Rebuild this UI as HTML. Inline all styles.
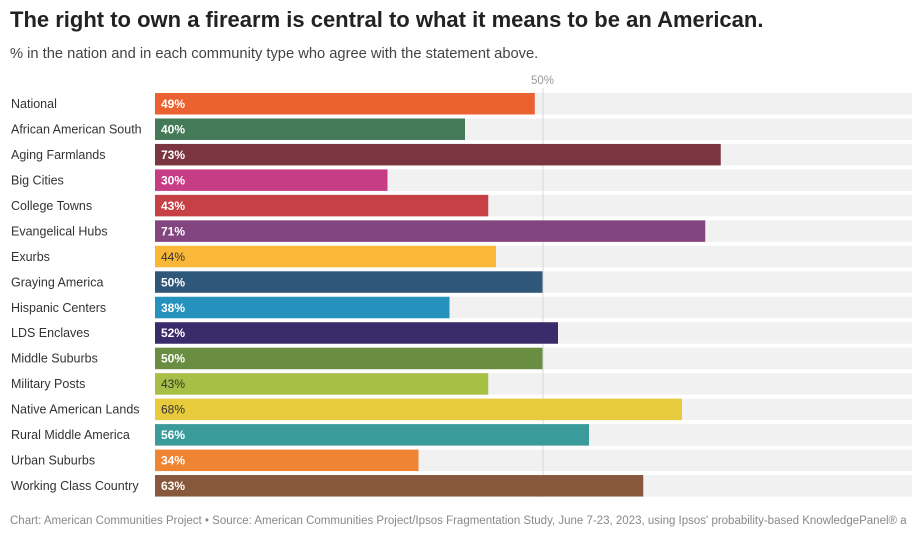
<!DOCTYPE html>
<html><head><meta charset="utf-8">
<style>
body{margin:0;width:912px;height:533px;overflow:hidden;background:#fff;font-family:"Liberation Sans",sans-serif;position:relative}
#title{position:absolute;left:10px;top:7px;font-size:22px;font-weight:bold;color:#222;white-space:nowrap}
#sub{position:absolute;left:10px;top:46px;font-size:14.7px;color:#444;white-space:nowrap}
#foot{position:absolute;left:10px;top:515px;font-size:11.5px;color:#888;white-space:nowrap}
svg{position:absolute;left:0;top:0}
</style></head><body>
<div id="title">The right to own a firearm is central to what it means to be an American.</div>
<div id="sub">% in the nation and in each community type who agree with the statement above.</div>
<svg id="chart" width="912" height="533"></svg>
<div id="foot">Chart: American Communities Project • Source: American Communities Project/Ipsos Fragmentation Study, June 7-23, 2023, using Ipsos' probability-based KnowledgePanel® a</div>
<script>
const categories=["National","African American South","Aging Farmlands","Big Cities","College Towns","Evangelical Hubs","Exurbs","Graying America","Hispanic Centers","LDS Enclaves","Middle Suburbs","Military Posts","Native American Lands","Rural Middle America","Urban Suburbs","Working Class Country"];
const values=[49,40,73,30,43,71,44,50,38,52,50,43,68,56,34,63];
const colors=["#ec6130","#457a58","#7a3540","#c63d86","#c64146","#83457f","#fbb738","#2f5779","#2591bd","#3a2b6b","#6a8e41","#a8bf46","#e7cb3c","#3b9b9b","#ef8432","#87583b"];
const darkText=[6,11,12];
const ticks=[50];
const svg=document.getElementById('chart');
const NS="http://www.w3.org/2000/svg";
const x0=155, pxPer=7.75;
const x=v=>x0+v*pxPer;
const y=i=>93+i*25.47;
const bh=21.5;
function mk(t,a){const e=document.createElementNS(NS,t);for(const k in a)e.setAttribute(k,a[k]);svg.appendChild(e);return e;}
categories.forEach((c,i)=>{
  const tr=mk('rect',{x:x0,y:y(i),width:912-x0,height:bh,fill:'#f1f1f1'});
  
  
});
ticks.forEach(t=>{
  const l=mk('line',{x1:x(t)+0.5,x2:x(t)+0.5,y1:88,y2:497,stroke:'#d8d8d8','stroke-width':1});
  
  
  const tx=mk('text',{x:x(t),y:84,'text-anchor':'middle','font-size':11.5,fill:'#999'});
  tx.textContent=t+'%';
  
  
});
categories.forEach((c,i)=>{
  const lb=mk('text',{x:11,y:y(i)+15,'font-size':12.5,fill:'#333'});
  lb.textContent=c;
  
  
  const b=mk('rect',{x:x0,y:y(i),width:values[i]*pxPer,height:bh,fill:colors[i]});
  
  
  const dk=darkText.includes(i);
  const v=mk('text',{x:x0+6,y:y(i)+15,'font-size':12,fill:dk?'#333':'#fff','font-weight':dk?'normal':'bold'});
  v.textContent=values[i]+'%';
  
  
});
</script>
</body></html>
